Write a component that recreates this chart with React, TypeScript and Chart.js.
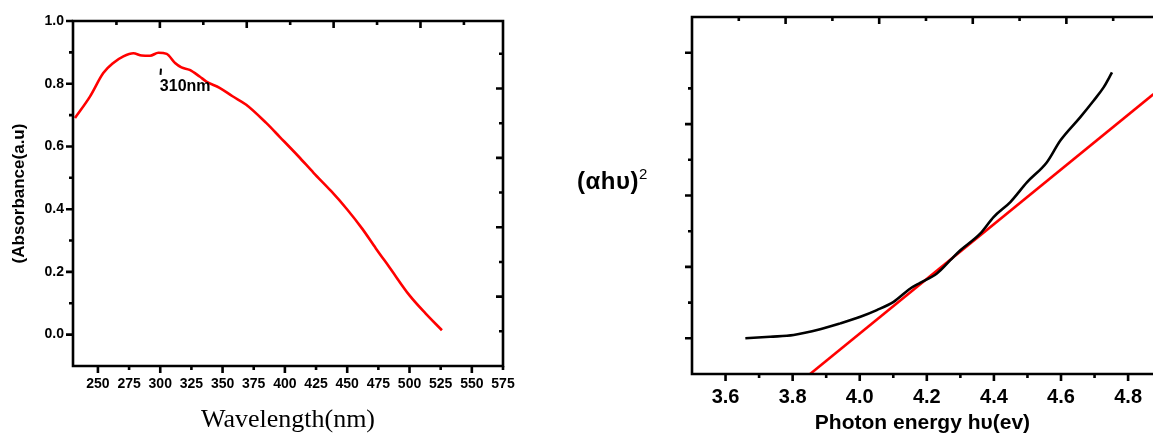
import React, { useEffect, useRef } from "react";
import { Chart, registerables } from "chart.js";

Chart.register(...registerables);

const SANS = "'Liberation Sans', Arial, Helvetica, sans-serif";
const SERIF = "'Liberation Serif', 'Times New Roman', serif";

// ---------- Left chart: absorbance spectrum ----------
const wavelengthNm = [231.6, 243.6, 254.3, 262.3, 270.4, 278.4, 285.1, 291.8, 298.5, 305.2, 311.9, 317, 323.6, 331.6, 337, 347.6, 358, 369, 385, 396, 411, 423, 437, 450, 462, 473, 484, 500, 513, 526];
const absorbance = [0.691, 0.759, 0.834, 0.866, 0.887, 0.897, 0.89, 0.889, 0.899, 0.895, 0.866, 0.852, 0.844, 0.823, 0.807, 0.787, 0.76, 0.733, 0.675, 0.63, 0.568, 0.516, 0.458, 0.399, 0.338, 0.275, 0.214, 0.125, 0.067, 0.014];
const wavelengthTicks = [250, 275, 300, 325, 350, 375, 400, 425, 450, 475, 500, 525, 550, 575];
const absorbanceTicks = [0, 0.2, 0.4, 0.6, 0.8, 1.0];
const peakText = "310nm";
const peakTextAt = { x: 299.7, y: 0.79 };
const peakMarkAt = { x: 300.6, y1: 0.848, y2: 0.828 };

// ---------- Right chart: Tauc plot ----------
const photonEnergy = [3.659, 3.733, 3.803, 3.882, 3.942, 4.002, 4.051, 4.101, 4.151, 4.18, 4.23, 4.27, 4.3, 4.359, 4.399, 4.449, 4.499, 4.558, 4.598, 4.657, 4.697, 4.727, 4.752];
const alphaHnuSquared = [0, 0.022, 0.046, 0.126, 0.209, 0.302, 0.395, 0.511, 0.698, 0.777, 0.908, 1.094, 1.233, 1.466, 1.698, 1.908, 2.187, 2.466, 2.77, 3.095, 3.328, 3.514, 3.723];
const tangentEnergy = [3.852, 4.876];
const tangentValue = [-0.5, 3.42];
const energyTicks = [3.6, 3.8, 4.0, 4.2, 4.4, 4.6, 4.8];

type TickSet = {
  scaleId: string;
  side: "left" | "right" | "top" | "bottom";
  inward: boolean;
  values: number[];
  major: boolean[];
};

function range(start: number, step: number, count: number) {
  const out: number[] = [];
  for (let i = 0; i < count; i++) out.push(+(start + i * step).toFixed(6));
  return out;
}

function makeFramePlugin(sides: string[], tickSets: TickSet[], lw: number) {
  return {
    id: "frame",
    afterDraw(chart: any) {
      const { ctx, chartArea: a, scales } = chart;
      ctx.save();
      ctx.strokeStyle = "#000";
      ctx.lineWidth = lw;
      ctx.lineCap = "square";
      ctx.beginPath();
      if (sides.includes("left")) { ctx.moveTo(a.left, a.top); ctx.lineTo(a.left, a.bottom); }
      if (sides.includes("bottom")) { ctx.moveTo(a.left, a.bottom); ctx.lineTo(a.right, a.bottom); }
      if (sides.includes("top")) { ctx.moveTo(a.left, a.top); ctx.lineTo(a.right, a.top); }
      if (sides.includes("right")) { ctx.moveTo(a.right, a.top); ctx.lineTo(a.right, a.bottom); }
      ctx.stroke();
      ctx.lineCap = "butt";
      ctx.beginPath();
      for (const ts of tickSets) {
        const s = scales[ts.scaleId];
        ts.values.forEach((v, i) => {
          const p = s.getPixelForValue(v);
          const len = ts.major[i] ? 7 : 4;
          const d = ts.inward ? len : -len;
          if (ts.side === "left") { ctx.moveTo(a.left, p); ctx.lineTo(a.left + d, p); }
          if (ts.side === "right") { ctx.moveTo(a.right, p); ctx.lineTo(a.right - d, p); }
          if (ts.side === "bottom") { ctx.moveTo(p, a.bottom); ctx.lineTo(p, a.bottom - d); }
          if (ts.side === "top") { ctx.moveTo(p, a.top); ctx.lineTo(p, a.top + d); }
        });
      }
      ctx.stroke();
      ctx.restore();
    },
  };
}

const peakPlugin = {
  id: "peak",
  afterDatasetsDraw(chart: any) {
    const { ctx, scales } = chart;
    const x = scales.x, y = scales.y;
    ctx.save();
    ctx.strokeStyle = "#000";
    ctx.lineWidth = 2;
    ctx.beginPath();
    const mx = x.getPixelForValue(peakMarkAt.x);
    ctx.moveTo(mx, y.getPixelForValue(peakMarkAt.y1));
    ctx.lineTo(mx - 0.5, y.getPixelForValue(peakMarkAt.y2));
    ctx.stroke();
    ctx.fillStyle = "#000";
    ctx.font = `bold 16px ${SANS}`;
    ctx.textAlign = "left";
    ctx.textBaseline = "middle";
    ctx.fillText(peakText, x.getPixelForValue(peakTextAt.x), y.getPixelForValue(peakTextAt.y));
    ctx.restore();
  },
};

function LeftChart() {
  const ref = useRef<HTMLCanvasElement>(null);
  useEffect(() => {
    const tickSets: TickSet[] = [];
    const bx = range(250, 25, 14);
    tickSets.push({ scaleId: "x", side: "bottom", inward: false, values: bx, major: bx.map((v) => (v - 250) % 50 === 0) });
    const ly = range(0, 0.1, 11);
    tickSets.push({ scaleId: "y", side: "left", inward: false, values: ly, major: ly.map((_, i) => i % 2 === 0) });
    const tx = range(230 + 34.85, 34.85, 9);
    tickSets.push({ scaleId: "x", side: "top", inward: true, values: tx, major: tx.map((_, i) => i % 2 === 1) });
    const ry = range(-0.1 + 0.1106, 0.1106, 9);
    tickSets.push({ scaleId: "y", side: "right", inward: true, values: ry, major: ry.map((_, i) => i % 2 === 1) });

    const chart = new Chart(ref.current!, {
      type: "line",
      data: {
        datasets: [
          {
            data: wavelengthNm.map((x, i) => ({ x, y: absorbance[i] })),
            borderColor: "#ff0000",
            borderWidth: 2.6,
            pointRadius: 0,
            cubicInterpolationMode: "monotone",
            fill: false,
          },
        ],
      },
      options: {
        responsive: false,
        animation: false,
        layout: { padding: { top: 21, right: 57, left: 0, bottom: 0 } },
        plugins: { legend: { display: false }, tooltip: { enabled: false } },
        scales: {
          x: {
            type: "linear",
            min: 230,
            max: 575,
            grid: { display: false, drawTicks: false },
            border: { display: false },
            afterBuildTicks: (s: any) => { s.ticks = wavelengthTicks.map((v) => ({ value: v })); },
            afterFit: (s: any) => { s.height = 70; },
            ticks: { autoSkip: false, maxRotation: 0, padding: 10, color: "#000", font: { family: SANS, size: 14, weight: "bold" }, callback: (v: any) => String(v) },
            title: { display: true, text: "Wavelength(nm)", color: "#000", font: { family: SERIF, size: 26 }, padding: { top: 0, bottom: 0 } },
          },
          y: {
            type: "linear",
            min: -0.1,
            max: 1.0,
            grid: { display: false, drawTicks: false },
            border: { display: false },
            afterBuildTicks: (s: any) => { s.ticks = absorbanceTicks.map((v) => ({ value: v })); },
            afterFit: (s: any) => { s.width = 73; },
            ticks: { padding: 9, color: "#000", font: { family: SANS, size: 14, weight: "bold" }, callback: (v: any) => Number(v).toFixed(1) },
            title: { display: true, text: "(Absorbance(a.u)", color: "#000", font: { family: SANS, size: 17, weight: "bold" }, padding: { top: 9, bottom: 0 } },
          },
        },
      },
      plugins: [makeFramePlugin(["left", "bottom", "top", "right"], tickSets, 2.6), peakPlugin],
    } as any);
    return () => chart.destroy();
  }, []);
  return <canvas ref={ref} width={560} height={436} style={{ position: "absolute", left: 0, top: 0, width: 560, height: 436 }} />;
}

function RightChart() {
  const ref = useRef<HTMLCanvasElement>(null);
  useEffect(() => {
    const tickSets: TickSet[] = [];
    const bx = range(3.6, 0.1, 13);
    tickSets.push({ scaleId: "x", side: "bottom", inward: false, values: bx, major: bx.map((_, i) => i % 2 === 0) });
    const ly = range(0, 0.5, 9);
    tickSets.push({ scaleId: "y", side: "left", inward: false, values: ly, major: ly.map((_, i) => i % 2 === 0) });
    const tx = range(3.5 + 0.1395, 0.1395, 9);
    tickSets.push({ scaleId: "x", side: "top", inward: true, values: tx, major: tx.map((_, i) => i % 2 === 1) });

    const chart = new Chart(ref.current!, {
      type: "line",
      data: {
        datasets: [
          {
            data: photonEnergy.map((x, i) => ({ x, y: alphaHnuSquared[i] })),
            borderColor: "#000000",
            borderWidth: 2.6,
            pointRadius: 0,
            cubicInterpolationMode: "monotone",
            fill: false,
          },
          {
            data: tangentEnergy.map((x, i) => ({ x, y: tangentValue[i] })),
            borderColor: "#ff0000",
            borderWidth: 2.6,
            pointRadius: 0,
            tension: 0,
            fill: false,
          },
        ],
      },
      options: {
        responsive: false,
        animation: false,
        layout: { padding: { top: 17, right: 0, left: 0, bottom: 0 } },
        plugins: { legend: { display: false }, tooltip: { enabled: false } },
        scales: {
          x: {
            type: "linear",
            min: 3.5,
            max: 4.874,
            grid: { display: false, drawTicks: false },
            border: { display: false },
            afterBuildTicks: (s: any) => { s.ticks = energyTicks.map((v) => ({ value: v })); },
            afterFit: (s: any) => { s.height = 62; },
            ticks: { autoSkip: false, maxRotation: 0, padding: 11, color: "#000", font: { family: SANS, size: 20, weight: "bold" }, callback: (v: any) => Number(v).toFixed(1) },
            title: { display: true, text: "Photon energy hυ(ev)", color: "#000", font: { family: SANS, size: 21, weight: "bold" }, padding: { top: 0, bottom: 0 } },
          },
          y: {
            type: "linear",
            min: -0.5,
            max: 4.5,
            grid: { display: false, drawTicks: false },
            border: { display: false },
            afterFit: (s: any) => { s.width = 132; },
            ticks: { display: false },
          },
        },
      },
      plugins: [makeFramePlugin(["left", "bottom", "top"], tickSets, 2.6)],
    } as any);
    return () => chart.destroy();
  }, []);
  return <canvas ref={ref} width={593} height={436} style={{ position: "absolute", left: 560, top: 0, width: 593, height: 436 }} />;
}

export default function App() {
  return (
    <div style={{ position: "fixed", left: 0, top: 0, width: 1153, height: 436, overflow: "hidden", background: "#fff" }}>
      <LeftChart />
      <RightChart />
      <div
        style={{
          position: "absolute",
          left: 577,
          top: 169,
          fontFamily: SANS,
          fontWeight: "bold",
          fontSize: 24,
          letterSpacing: "0.5px",
          lineHeight: "24px",
          color: "#000",
          whiteSpace: "nowrap",
        }}
      >
        (αhυ)
        <span style={{ fontSize: 15, fontWeight: "normal", letterSpacing: 0, position: "relative", top: -10 }}>2</span>
      </div>
    </div>
  );
}
